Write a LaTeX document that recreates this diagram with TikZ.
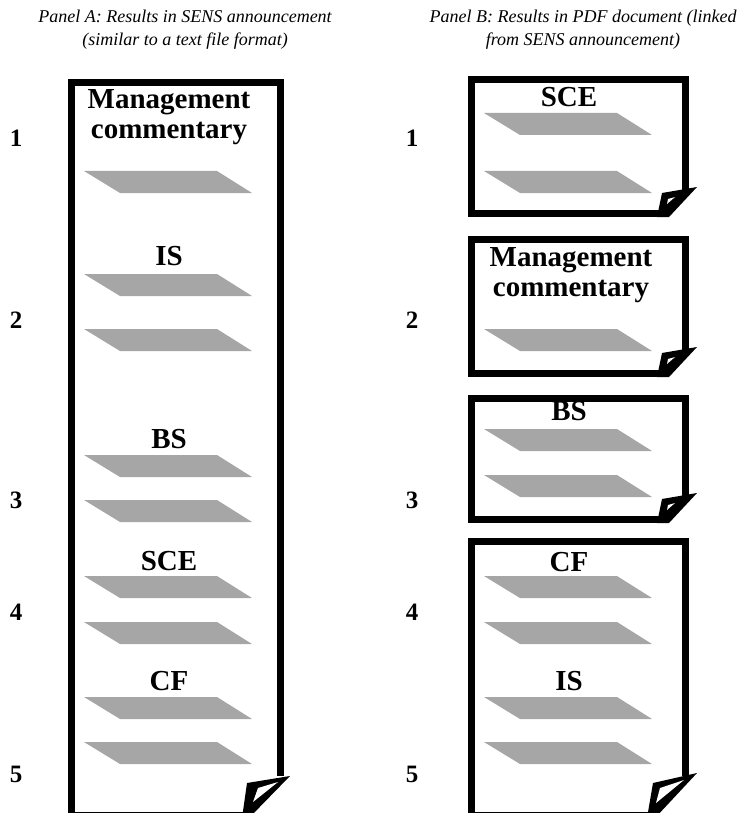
\documentclass[tikz,border=0pt]{standalone}
\usepackage{fontspec}
\setmainfont{Liberation Serif}
\usepackage{tikz}
\definecolor{bargray}{HTML}{A6A6A6}
\tikzset{
  page/.style={line width=7pt, line join=miter},
  bar/.pic={\fill[bargray] (0,0) -- (133,0) -- (168,22) -- (36,22) -- cycle;},
  heading/.style={font=\fontsize{18}{23}\selectfont\itshape, align=center, inner sep=0pt},
  label/.style={font=\fontsize{29}{30}\selectfont\bfseries, align=center, inner sep=0pt, anchor=north},
  num/.style={font=\fontsize{25}{26}\selectfont\bfseries, inner sep=0pt},
}

\begin{document}
\begin{tikzpicture}[x=1pt, y=-1pt]
\useasboundingbox (0,0) rectangle (744,813);

% headings
\node[heading] (headA) at (185,30) {Panel A: Results in SENS announcement\\(similar to a text file format)};
\node[heading] (headB) at (583,30) {Panel B: Results in PDF document (linked\\from SENS announcement)};

% row numbers
\foreach \n/\y in {1/138, 2/320, 3/500, 4/612, 5/774} {
  \node[num] (numA\n) at (16,\y) {\n};
  \node[num] (numB\n) at (412,\y) {\n};
}

% Panel A: one long page
\draw[page] (245,815) -- (71.5,815) -- (71.5,82.5) -- (280,82.5) -- (280,776);
\fill (290,776) -- (247,783) -- (242,818) -- (249,818) -- cycle;
\fill[white] (278,782) -- (258,788) -- (253,802) -- cycle;

\node[label] (mcA) at (169,89) {Management\\commentary};
\pic at (84,171) {bar};
\node[label] (isA) at (169,246) {IS};
\pic at (84,274) {bar};
\pic at (84,329) {bar};
\node[label] (bsA) at (169,429) {BS};
\pic at (84,455) {bar};
\pic at (84,500) {bar};
\node[label] (sceA) at (169,551) {SCE};
\pic at (84,576) {bar};
\pic at (84,622) {bar};
\node[label] (cfA) at (169,671) {CF};
\pic at (84,697) {bar};
\pic at (84,742) {bar};

% Panel B: separate pages
\draw[page] (660,213.5) -- (471.5,213.5) -- (471.5,80) -- (685,80) -- (685,190);
\fill (697,187) -- (662,193) -- (657,217) -- (669,217) -- cycle;
\fill[white] (675,197) -- (668,199) -- (667,204) -- cycle;
\node[label] (sceB) at (569,87) {SCE};
\pic at (484,113) {bar};
\pic at (484,171) {bar};

\draw[page] (660,373.5) -- (471.5,373.5) -- (471.5,239.5) -- (685,239.5) -- (685,350);
\fill (697,347) -- (662,353) -- (657,377) -- (669,377) -- cycle;
\fill[white] (675,357) -- (668,359) -- (667,364) -- cycle;
\node[label] (mcB) at (571,247) {Management\\commentary};
\pic at (484,329) {bar};

\draw[page] (660,519.5) -- (471.5,519.5) -- (471.5,398) -- (685,398) -- (685,496);
\fill (697,493) -- (662,499) -- (657,523) -- (669,523) -- cycle;
\fill[white] (675,503) -- (668,505) -- (667,510) -- cycle;
\node[label] (bsB) at (569,401) {BS};
\pic at (484,429) {bar};
\pic at (484,475) {bar};

\draw[page] (650,815) -- (471.5,815) -- (471.5,541) -- (685,541) -- (685,776);
\fill (697,773) -- (653,783) -- (647,818) -- (655,818) -- cycle;
\fill[white] (684,780) -- (660,788) -- (656,803) -- cycle;
\node[label] (cfB) at (569,552) {CF};
\pic at (484,576) {bar};
\pic at (484,622) {bar};
\node[label] (isB) at (569,671) {IS};
\pic at (484,697) {bar};
\pic at (484,742) {bar};
\end{tikzpicture}
\end{document}
